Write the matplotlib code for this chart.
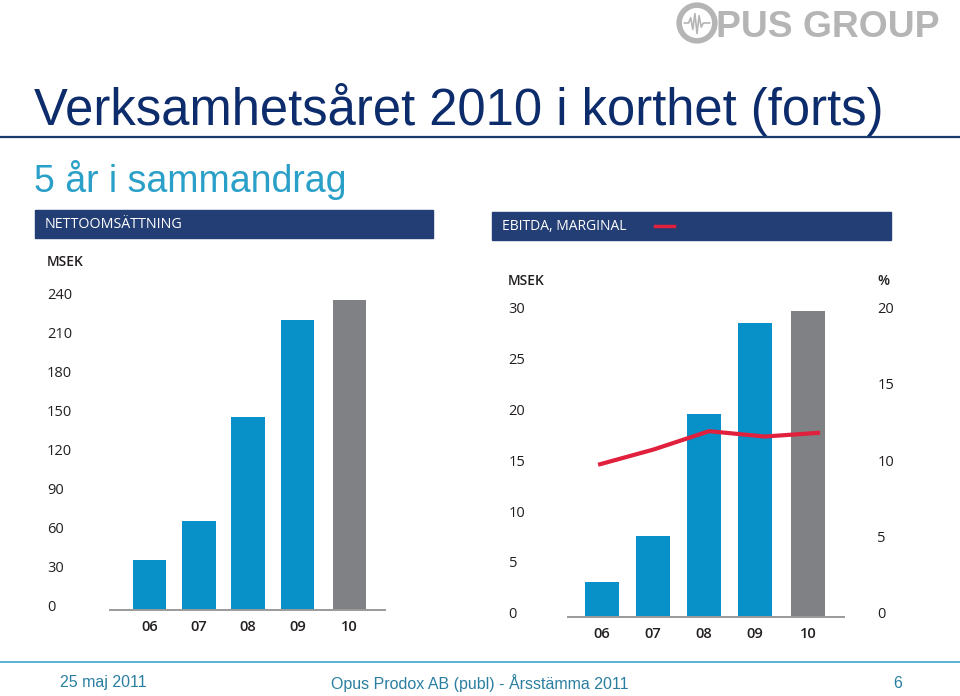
import numpy as np
import matplotlib
matplotlib.use("Agg")
import matplotlib.pyplot as plt
from matplotlib.patches import Rectangle, Circle
from matplotlib.lines import Line2D
import matplotlib.transforms as mtransforms

# data
years = ['06', '07', '08', '09', '10']
nettoomsattning = [38.5, 68.5, 148.5, 223, 238]      # MSEK
ebitda = [3.5, 8.0, 20.0, 28.9, 30.1]                # MSEK
marginal = [10.0, 11.0, 12.2, 11.85, 12.1]           # %
left_ticks = [0, 30, 60, 90, 120, 150, 180, 210, 240]
right_ticks_msek = [0, 5, 10, 15, 20, 25, 30]
right_ticks_pct = [0, 5, 10, 15, 20]

# colours
BLUE = '#0890c8'
GREY = '#808184'
NAVY = '#233e74'
RED = '#e0203c'
TITLE = '#0d2c6c'
TEAL = '#2aa0c8'
TXT = '#231f20'
FOOT = '#2a7fa0'

W, H = 960, 696
fig = plt.figure(figsize=(9.6, 6.96), dpi=100)


def fx(x):
    return x / W


def fy(y):
    return 1 - y / H


def ax_rect(x0, x1, y0, y1):
    return [fx(x0), fy(y1), fx(x1) - fx(x0), fy(y0) - fy(y1)]


bar_colors = [BLUE, BLUE, BLUE, BLUE, GREY]
xpos = np.array([0, 1, 2, 3, 4.05])
lift = mtransforms.ScaledTranslation(0, 0.045, fig.dpi_scale_trans)


def style_axis(ax):
    for s in ['top', 'right', 'left']:
        ax.spines[s].set_visible(False)
    ax.spines['bottom'].set_color('#9a9a9a')
    ax.spines['bottom'].set_linewidth(1.4)
    ax.set_xticks(xpos)
    ax.set_xticklabels(years, fontsize=10.5, color=TXT, family='Open Sans', fontweight='semibold')
    ax.tick_params(axis='x', length=0, pad=7)


# --- left chart: nettoomsättning
ax1 = fig.add_axes(ax_rect(110, 385, 290, 610))
ax1.bar(xpos, nettoomsattning, width=0.68, color=bar_colors)
ax1.set_xlim(-0.8, 4.77)
ax1.set_ylim(0, 245.8)
style_axis(ax1)
ax1.set_yticks(left_ticks)
ax1.set_yticklabels([str(t) for t in left_ticks], fontsize=10.5, color=TXT,
                    family='Open Sans', ha='left')
ax1.tick_params(axis='y', length=0, pad=45.4)
for lab in ax1.get_yticklabels():
    lab.set_transform(lab.get_transform() + lift)
fig.text(fx(47), fy(262), 'MSEK', fontsize=10, color=TXT, family='Open Sans',
         fontweight='semibold', va='center')

# --- right chart: EBITDA + marginal
ax2 = fig.add_axes(ax_rect(568.3, 844, 300, 617.3))
ax2.bar(xpos, ebitda, width=0.66, color=bar_colors)
ax2.set_xlim(-0.655, 4.75)
ax2.set_ylim(0, 31.2)
style_axis(ax2)
ax2.set_yticks(right_ticks_msek)
ax2.set_yticklabels([str(t) for t in right_ticks_msek], fontsize=10.5, color=TXT,
                    family='Open Sans', ha='left')
ax2.tick_params(axis='y', length=0, pad=43)
for lab in ax2.get_yticklabels():
    lab.set_transform(lab.get_transform() + lift)

ax3 = ax2.twinx()
line_x = np.linspace(-0.07, 4.28, 5)
ax3.plot(line_x, marginal, color=RED, lw=3, solid_capstyle='butt')
ax3.set_ylim(0, 31.2 * 20 / 30)
for s in ax3.spines.values():
    s.set_visible(False)
ax3.set_yticks(right_ticks_pct)
ax3.set_yticklabels([str(t) for t in right_ticks_pct], fontsize=10.5, color=TXT,
                    family='Open Sans')
ax3.tick_params(axis='y', length=0, pad=24)
for lab in ax3.get_yticklabels():
    lab.set_transform(lab.get_transform() + lift)
fig.text(fx(508), fy(281), 'MSEK', fontsize=10, color=TXT, family='Open Sans',
         fontweight='semibold', va='center')
fig.text(fx(877), fy(281), '%', fontsize=10, color=TXT, family='Open Sans',
         fontweight='semibold', va='center')

# --- header boxes
fig.patches.append(Rectangle((fx(35), fy(238)), fx(433) - fx(35), fy(210) - fy(238),
                             transform=fig.transFigure, color=NAVY, zorder=0))
fig.patches.append(Rectangle((fx(492), fy(240)), fx(891) - fx(492), fy(212) - fy(240),
                             transform=fig.transFigure, color=NAVY, zorder=0))
fig.text(fx(45), fy(224), 'NETTOOMSÄTTNING', fontsize=10.3, color='white',
         family='Open Sans', va='center')
fig.text(fx(502), fy(226), 'EBITDA, MARGINAL', fontsize=10, color='white',
         family='Open Sans', va='center')
fig.lines.append(Line2D([fx(655), fx(674)], [fy(226), fy(226)], transform=fig.transFigure,
                        color=RED, lw=2.5))

# --- titles
fig.text(fx(34), fy(125), 'Verksamhetsåret 2010 i korthet (forts)', fontsize=36.5,
         color=TITLE, family='Liberation Sans', va='baseline')
fig.lines.append(Line2D([0, 1], [fy(137), fy(137)], transform=fig.transFigure,
                        color='#1a3a6e', lw=1.6))
fig.text(fx(34), fy(192), '5 år i sammandrag', fontsize=27, color=TEAL,
         family='Liberation Sans', va='baseline')

# --- logo
logo_ax = fig.add_axes(ax_rect(676, 718, 2, 44))
logo_ax.set_xlim(-1, 1)
logo_ax.set_ylim(-1, 1)
logo_ax.axis('off')
logo_ax.add_patch(Circle((0, 0), 0.85, fill=False, ec='#b5b5b5', lw=4))
zx = np.array([-0.6, -0.4, -0.3, -0.2, -0.1, 0.0, 0.1, 0.2, 0.3, 0.6])
zy = np.array([0.0, 0.0, 0.25, -0.3, 0.45, -0.5, 0.35, -0.2, 0.0, 0.0])
logo_ax.plot(zx, zy, color='#b5b5b5', lw=1.2)
fig.text(fx(716), fy(37), 'PUS GROUP', fontsize=26.8, color='#b5b5b5',
         family='Liberation Sans', fontweight='bold', va='baseline')

# --- footer
fig.lines.append(Line2D([0, 1], [fy(662), fy(662)], transform=fig.transFigure,
                        color='#3aa6d0', lw=1.2))
fig.text(fx(60), fy(683), '25 maj 2011', fontsize=11.5, color=FOOT,
         family='Liberation Sans', va='center')
fig.text(fx(480), fy(683), 'Opus Prodox AB (publ) - Årsstämma 2011', fontsize=11.5,
         color=FOOT, family='Liberation Sans', va='center', ha='center')
fig.text(fx(902), fy(683), '6', fontsize=11.5, color=FOOT, family='Liberation Sans',
         va='center', ha='right')

fig.savefig('out.png', dpi=100)
